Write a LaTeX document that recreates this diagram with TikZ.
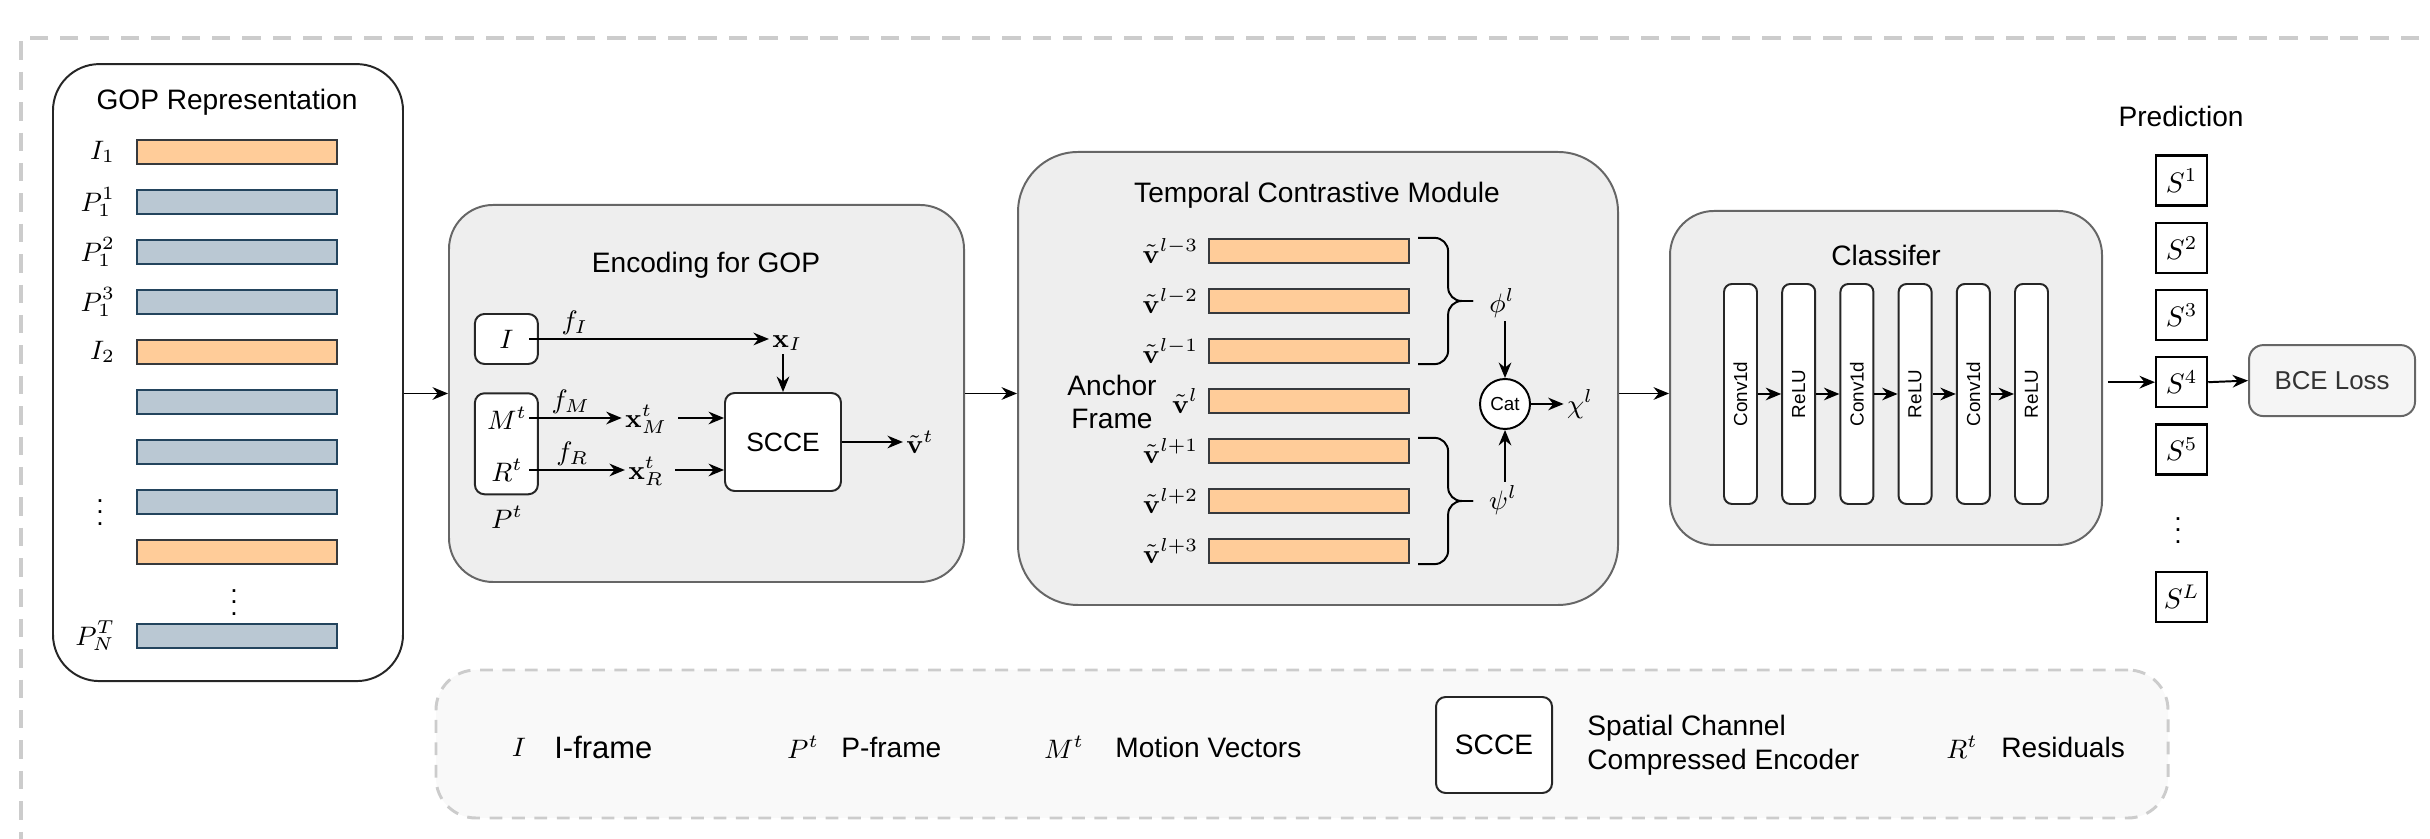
\RequirePackage{fix-cm}
\documentclass[tikz,border=0pt]{standalone}
\usepackage{amsmath}
\usepackage[no-math]{fontspec}
\setmainfont{Liberation Sans}
\usetikzlibrary{arrows.meta,positioning,calc}

\definecolor{obarfill}{HTML}{FFCC99}
\definecolor{obardraw}{HTML}{36393D}
\definecolor{bbarfill}{HTML}{BAC8D3}
\definecolor{bbardraw}{HTML}{23445D}
\definecolor{panelfill}{HTML}{EEEEEE}
\definecolor{paneldraw}{HTML}{666666}
\definecolor{dashgray}{HTML}{CCCCCC}
\definecolor{legfill}{HTML}{F9F9F9}
\definecolor{lossfill}{HTML}{F5F5F5}

\tikzset{
  txt/.style={font=\fontsize{10}{12}\selectfont, inner sep=1pt},
  mth/.style={font=\fontsize{9.5}{11.5}\selectfont, inner sep=1pt},
  panel/.style={draw=paneldraw, fill=panelfill, line width=0.7pt, rounded corners=0.55cm, inner sep=0pt},
  obar/.style={draw=obardraw, fill=obarfill, line width=0.8pt, minimum width=2.5cm, minimum height=0.3cm, inner sep=0pt},
  bbar/.style={obar, draw=bbardraw, fill=bbarfill},
  wbox/.style={draw=black!85, fill=white, line width=0.7pt, rounded corners=0.12cm, inner sep=0pt},
  layer/.style={wbox, rounded corners=0.1cm, minimum width=0.4125cm, minimum height=2.75cm, font=\fontsize{6.7}{8}\selectfont},
  sbox/.style={draw=black, fill=white, line width=0.8pt, minimum width=0.6375cm, minimum height=0.625cm, inner sep=0pt, font=\fontsize{10}{12}\selectfont},
  arr/.style={-{Stealth[length=5.5pt, width=4.5pt]}, line width=0.7pt},
  brc/.style={line width=0.7pt, rounded corners=0.17cm},
}

\begin{document}
\begin{tikzpicture}
  \useasboundingbox (0,0) rectangle (30.375,10.4875);
  \clip (0,0) rectangle (30.375,10.4875);

  \draw[dashgray, line width=1.4pt, dash pattern=on 0.23cm off 0.15cm] (31,10.01) -- (0.26,10.01) -- (0.26,-0.5);

  \node[wbox, rounded corners=0.58cm, minimum width=4.375cm, minimum height=7.7125cm] (gop) at (2.85,5.83) {};
  \node[txt] (goptitle) at (2.8375,9.2125) {GOP Representation};
  \foreach \i/\s in {1/obar,2/bbar,3/bbar,4/bbar,5/obar,6/bbar,7/bbar,8/bbar,9/obar}
    \node[\s] (g\i) at (2.9625,{8.5875-0.625*(\i-1)}) {};
  \node[bbar] (gN) at (2.9625,2.5375) {};
  \node[mth, left=0.22cm of g1] (lg1) {$I_1$};
  \node[mth, left=0.22cm of g2] (lg2) {$P_1^1$};
  \node[mth, left=0.22cm of g3] (lg3) {$P_1^2$};
  \node[mth, left=0.22cm of g4] (lg4) {$P_1^3$};
  \node[mth, left=0.22cm of g5] (lg5) {$I_2$};
  \node[mth] (gdotsl) at (1.25,4.1875) {$\vdots$};
  \node[mth] (gdotsr) at (2.925,3.0625) {$\vdots$};
  \node[mth, left=0.22cm of gN] (lgN) {$P_N^T$};

  \node[panel, minimum width=6.4375cm, minimum height=4.7125cm] (enc) at (8.83125,5.56875) {};
  \node[txt] (enctitle) at (8.825,7.175) {Encoding for GOP};
  \node[wbox, minimum width=0.7875cm, minimum height=0.625cm] (ibox) at (6.33,6.25) {};
  \node[mth] (ilbl) at (ibox) {$I$};
  \node[wbox, minimum width=0.7875cm, minimum height=1.2625cm] (pbox) at (6.33,4.94) {};
  \node[mth] (mlbl) at (6.3375,5.2625) {$M^t$};
  \node[mth] (rlbl) at (6.3375,4.6125) {$R^t$};
  \node[mth] (plbl) at (6.3375,4.025) {$P^t$};
  \node[mth] (xI) at (9.84,6.2) {$\mathbf{x}_I$};
  \node[mth] (xM) at (8.075,5.25) {$\mathbf{x}_M^t$};
  \node[mth] (xR) at (8.075,4.6) {$\mathbf{x}_R^t$};
  \node[wbox, minimum width=1.45cm, minimum height=1.225cm, font=\fontsize{9.4}{11}\selectfont] (scce) at (9.7875,4.9625) {SCCE};
  \node[mth] (vt) at (11.5,4.9625) {$\tilde{\mathbf{v}}^t$};
  \draw[arr] (gop.east |- enc.west) -- (enc.west);
  \draw[arr] ([xshift=-0.12cm]ibox.east) -- (ibox.east -| xI.west) node[mth, above, pos=0.19] (fI) {$f_I$};
  \draw[arr] (scce.north |- xI.south) -- (scce.north);
  \draw[arr] ([xshift=-0.12cm]pbox.east |- mlbl) -- (xM.west |- mlbl) node[mth, above, pos=0.45] (fM) {$f_M$};
  \draw[arr] ([xshift=-0.12cm]pbox.east |- rlbl) -- (xR.west |- rlbl) node[mth, above, pos=0.45] (fR) {$f_R$};
  \draw[arr] ([xshift=0.1cm]xM.east |- mlbl) -- (scce.west |- mlbl);
  \draw[arr] ([xshift=0.1cm]xR.east |- rlbl) -- (scce.west |- rlbl);
  \draw[arr] (scce.east) -- (vt.west);

  \node[panel, rounded corners=0.75cm, minimum width=7.5cm, minimum height=5.6625cm] (tcm) at (16.475,5.75625) {};
  \node[txt] (tcmtitle) at (16.4625,8.05) {Temporal Contrastive Module};
  \foreach \i/\s in {1/{l-3},2/{l-2},3/{l-1},4/{l},5/{l+1},6/{l+2},7/{l+3}} {
    \node[obar] (t\i) at (16.3625,{7.35-0.625*(\i-1)}) {};
    \node[mth, left=0.08cm of t\i] (tl\i) {$\tilde{\mathbf{v}}^{\s}$};
  }
  \node[txt, align=center] (anchor) at (13.9,5.4625) {Anchor\\Frame};
  \draw[brc] ($(t1.north east)+(0.1,0)$) -| ($(t2.east)+(0.475,0)$) -- ++(0.3125,0);
  \draw[brc] ($(t2.east)+(0.7875,0)$) -- ($(t2.east)+(0.475,0)$) |- ($(t3.south east)+(0.1,0)$);
  \draw[brc] ($(t5.north east)+(0.1,0)$) -| ($(t6.east)+(0.475,0)$) -- ++(0.3125,0);
  \draw[brc] ($(t6.east)+(0.7875,0)$) -- ($(t6.east)+(0.475,0)$) |- ($(t7.south east)+(0.1,0)$);
  \node[mth] (phi) at (18.775,6.7) {$\phi^l$};
  \node[mth] (psi) at (18.7875,4.2375) {$\psi^l$};
  \node[circle, draw=black, fill=white, line width=0.7pt, minimum size=0.625cm, inner sep=0pt, font=\fontsize{6.7}{8}\selectfont] (cat) at (18.8125,5.4375) {Cat};
  \node[mth] (chi) at (19.75,5.4375) {$\chi^l$};
  \draw[arr] (cat.north |- phi.south) -- (cat.north);
  \draw[arr] (cat.south |- psi.north) -- (cat.south);
  \draw[arr] (cat.east) -- (chi.west);
  \draw[arr] (enc.east) -- (enc.east -| tcm.west);

  \node[panel, minimum width=5.4cm, minimum height=4.175cm] (cls) at (23.575,5.7625) {};
  \node[txt] (clstitle) at (23.575,7.3) {Classifer};
  \foreach \i/\s in {1/Conv1d,2/ReLU,3/Conv1d,4/ReLU,5/Conv1d,6/ReLU}
    \node[layer] (c\i) at ({21.756+0.7275*(\i-1)},5.5625) {\rotatebox{90}{\s}};
  \foreach \i [evaluate=\i as \j using int(\i+1)] in {1,...,5}
    \draw[arr] (c\i.east) -- (c\j.west);
  \draw[arr] (tcm.east |- enc.center) -- (cls.west |- enc.center);

  \node[txt] (predtitle) at (27.2625,9.0375) {Prediction};
  \foreach \i in {1,...,5}
    \node[sbox] (s\i) at (27.27,{8.23-0.84*(\i-1)}) {$S^{\i}$};
  \node[mth] (sdots) at (27.225,3.9625) {$\vdots$};
  \node[sbox] (sL) at (27.27,3.025) {$S^L$};
  \node[draw=paneldraw, fill=lossfill, line width=0.7pt, rounded corners=0.18cm, minimum width=2.075cm, minimum height=0.8875cm, text=black!80, font=\fontsize{9.2}{11}\selectfont] (bce) at (29.15,5.73) {BCE Loss};
  \draw[arr] ([xshift=0.06cm]cls.east |- s4.west) -- (s4.west);
  \draw[arr] (s4.east) -- (bce.west);

  \node[draw=dashgray, fill=legfill, line width=1.05pt, dash pattern=on 0.16cm off 0.12cm, rounded corners=0.5cm, minimum width=21.65cm, minimum height=1.85cm] (legend) at (16.275,1.1875) {};
  \node[mth] (legI) at (6.4875,1.15) {$I$};
  \node[txt, anchor=west, font=\fontsize{11}{13}\selectfont] (legItxt) at (6.8875,1.15) {I-frame};
  \node[mth] (legP) at (10.0375,1.15) {$P^t$};
  \node[txt, anchor=west] (legPtxt) at (10.475,1.15) {P-frame};
  \node[mth] (legM) at (13.3,1.15) {$M^t$};
  \node[txt, anchor=west] (legMtxt) at (13.9,1.15) {Motion Vectors};
  \node[wbox, minimum width=1.45cm, minimum height=1.2cm, font=\fontsize{10}{12}\selectfont] (legscce) at (18.675,1.175) {SCCE};
  \node[txt, anchor=west, align=left] (legsccetxt) at (19.8,1.175) {Spatial Channel\\Compressed Encoder};
  \node[mth] (legR) at (24.525,1.15) {$R^t$};
  \node[txt, anchor=west] (legRtxt) at (24.975,1.15) {Residuals};
\end{tikzpicture}
\end{document}
